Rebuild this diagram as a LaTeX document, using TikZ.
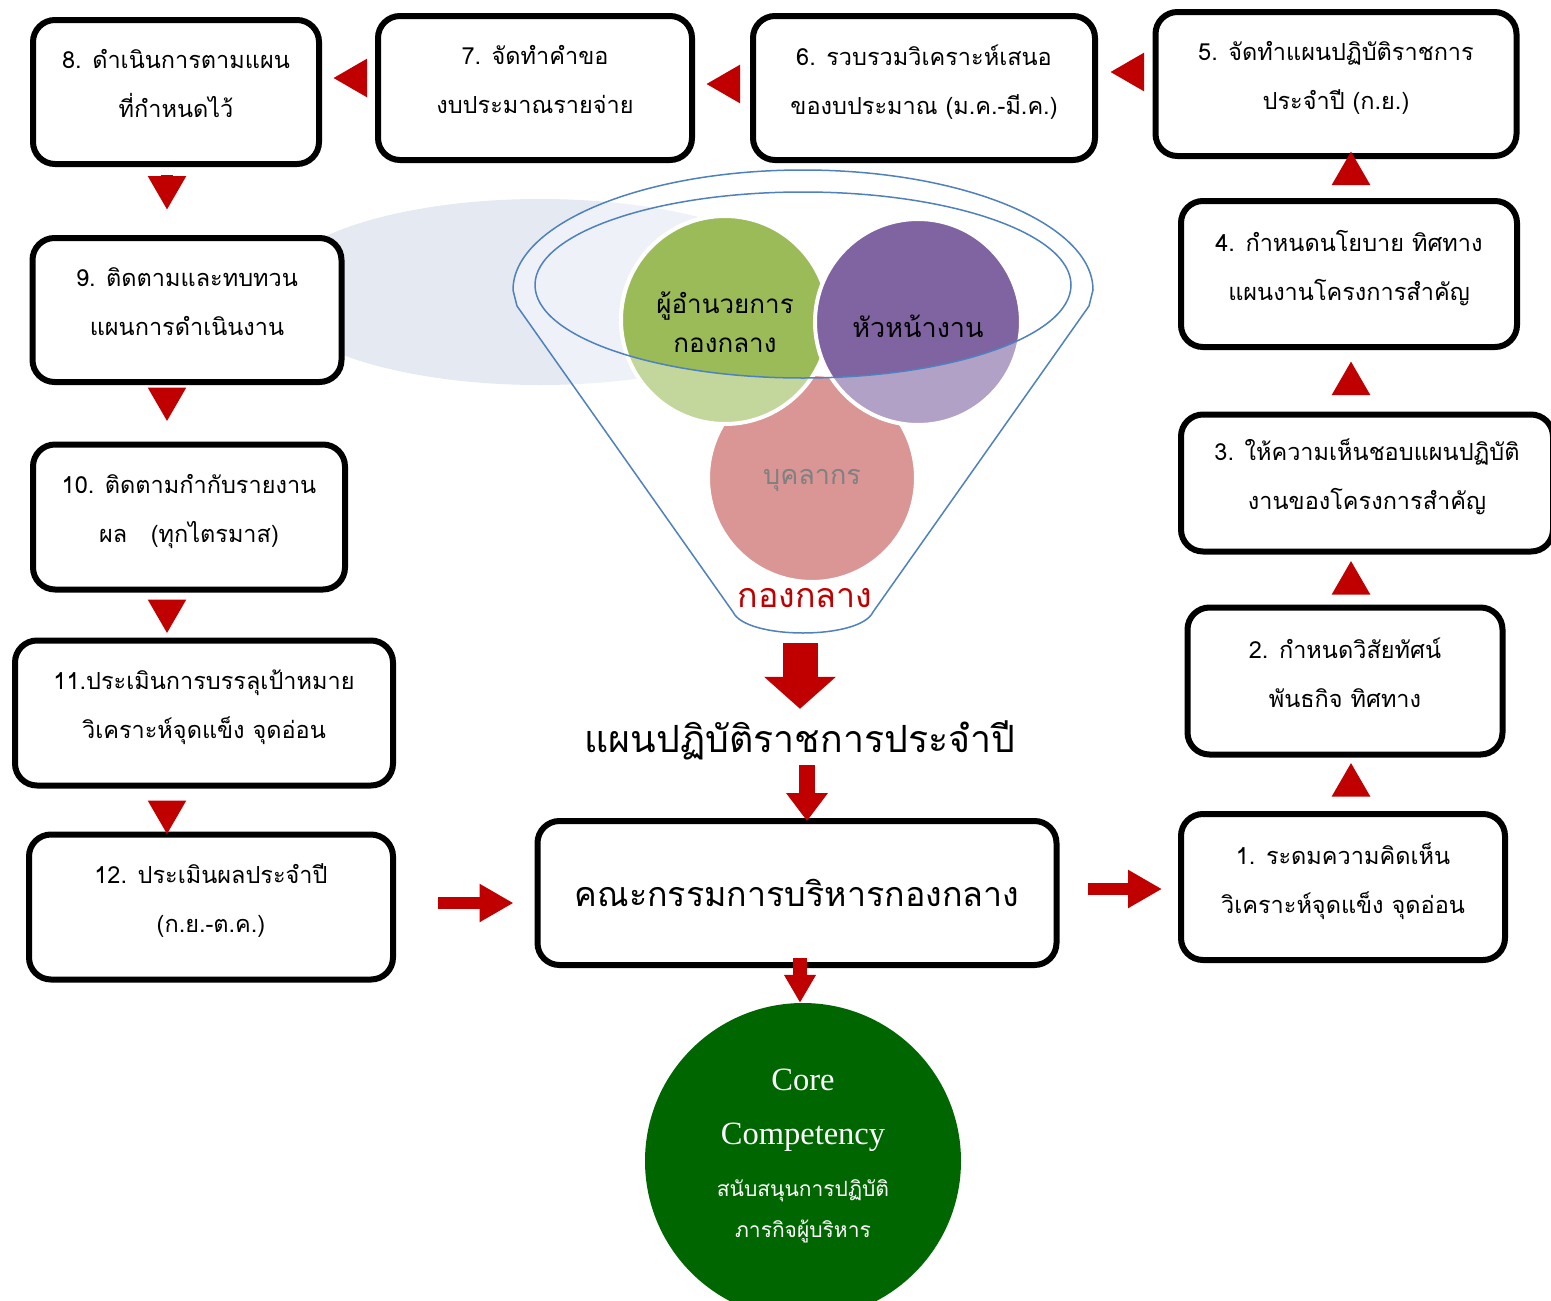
\documentclass[tikz,border=0pt]{standalone}
\usepackage{fontspec}
\newfontfamily\thai[Script=Thai]{Loma}
\newfontfamily\serif{Liberation Serif}
\usetikzlibrary{arrows.meta}

\definecolor{arrowred}{HTML}{C00000}
\definecolor{funnelblue}{HTML}{4F81BD}
\definecolor{greenfull}{HTML}{9BBB59}
\definecolor{greenlight}{HTML}{C3D69B}
\definecolor{purplefull}{HTML}{8064A2}
\definecolor{purplelight}{HTML}{B2A1C7}
\definecolor{pinklight}{HTML}{D99694}
\definecolor{coregreen}{HTML}{006600}
\definecolor{paleblue}{HTML}{E4E9F2}

\tikzset{
  stepbox/.style={draw=black, line width=6pt, rounded corners=22pt, fill=white,
    align=center, text depth=17pt, font=\thai\fontsize{23.5}{49}\selectfont},
  flow/.style={draw=arrowred, line width=12pt, -{Triangle[length=34pt,width=36pt]}},
  bigflow/.style={draw=arrowred, line width=35pt, -{Triangle[length=32pt,width=70pt]}},
  ring/.style={draw=white, line width=4pt},
}

\begin{document}
\begin{tikzpicture}[x=1pt, y=-1pt]
\useasboundingbox (0,0) rectangle (1551,1301);

% pale shadow behind the funnel
\fill[paleblue] (540,292) ellipse [x radius=268, y radius=93];

% funnel
\fill[white, opacity=0.4] (513,290) .. controls (513,224) and (643,170) .. (803,170)
  .. controls (963,170) and (1093,224) .. (1093,290) -- (1089,306) -- (873,612)
  .. controls (860,640) and (746,640) .. (733,612) -- (517,306) -- cycle;

% the three groups
\draw[ring, fill=pinklight] (812,478) circle [radius=104];
\draw[ring, fill=greenlight] (725,320) circle [radius=104];
\draw[ring, fill=purplelight] (918,322) circle [radius=103];
\begin{scope}
  \clip (803,285) ellipse [x radius=268, y radius=93];
  \draw[ring, fill=greenfull] (725,320) circle [radius=104];
  \draw[ring, fill=purplefull] (918,322) circle [radius=103];
\end{scope}

\draw[funnelblue, line width=1.5pt] (513,290) .. controls (513,224) and (643,170) .. (803,170)
  .. controls (963,170) and (1093,224) .. (1093,290) -- (1089,306) -- (873,612)
  .. controls (860,640) and (746,640) .. (733,612) -- (517,306) -- cycle;
\draw[funnelblue, line width=1.5pt] (803,285) ellipse [x radius=268, y radius=93];

\node[align=center, font=\thai\fontsize{26}{39}\selectfont] (director) at (725,322) {ผู้อำนวยการ\\กองกลาง};
\node[font=\thai\fontsize{27}{30}\selectfont] (heads) at (918,326) {หัวหน้างาน};
\node[font=\thai\fontsize{27}{30}\selectfont, text=gray] (staff) at (812,480) {บุคลากร};
\node[font=\thai\fontsize{34}{36}\selectfont, text=arrowred] (division) at (805,598) {กองกลาง};
\coordinate (fbot) at (800,635);

% steps
\node[stepbox, minimum width=286, minimum height=144] (b8) at (176,92) {8. ดำเนินการตามแผน\\ที่กำหนดไว้};
\node[stepbox, minimum width=314, minimum height=144] (b7) at (535,88) {7. จัดทำคำขอ\\งบประมาณรายจ่าย};
\node[stepbox, minimum width=342, minimum height=144] (b6) at (924,88) {6. รวบรวมวิเคราะห์เสนอ\\ของบประมาณ (ม.ค.-มี.ค.)};
\node[stepbox, minimum width=361, minimum height=144] (b5) at (1336,84) {5. จัดทำแผนปฏิบัติราชการ\\ประจำปี (ก.ย.)};
\node[stepbox, minimum width=336, minimum height=146] (b4) at (1349,274) {4. กำหนดนโยบาย ทิศทาง\\แผนงานโครงการสำคัญ};
\node[stepbox, minimum width=372, minimum height=137] (b3) at (1367,483) {3. ให้ความเห็นชอบแผนปฏิบัติ\\งานของโครงการสำคัญ};
\node[stepbox, minimum width=315, minimum height=147] (b2) at (1345,681) {2. กำหนดวิสัยทัศน์\\พันธกิจ ทิศทาง};
\node[stepbox, minimum width=324, minimum height=146] (b1) at (1343,887) {1. ระดมความคิดเห็น\\วิเคราะห์จุดแข็ง จุดอ่อน};
\node[stepbox, minimum width=309, minimum height=144] (b9) at (187,310) {9. ติดตามและทบทวน\\แผนการดำเนินงาน};
\node[stepbox, minimum width=312, minimum height=145] (b10) at (189,517) {10. ติดตามกำกับรายงาน\\ผล\quad(ทุกไตรมาส)};
\node[stepbox, minimum width=378, minimum height=145] (b11) at (204,713) {11.ประเมินการบรรลุเป้าหมาย\\วิเคราะห์จุดแข็ง จุดอ่อน};
\node[stepbox, minimum width=364, minimum height=145] (b12) at (211,907) {12. ประเมินผลประจำปี\\(ก.ย.-ต.ค.)};

\node[font=\thai\fontsize{37.5}{40}\selectfont] (plan) at (800,740) {แผนปฏิบัติราชการประจำปี};
\node[stepbox, minimum width=519, minimum height=144, text depth=0pt, font=\thai\fontsize{34}{40}\selectfont] (bc) at (797,893) {คณะกรรมการบริหารกองกลาง};

\node[circle, fill=coregreen, minimum size=316, inner sep=0] (core) at (803,1161) {};
\node[text=white, font=\serif\fontsize{32.5}{36}\selectfont] at (803,1080) {Core};
\node[text=white, font=\serif\fontsize{32.5}{36}\selectfont] at (803,1137) {Competency};
\node[text=white, align=center, font=\thai\fontsize{21}{41}\selectfont] at (803,1211) {สนับสนุนการปฏิบัติ\\ภารกิจผู้บริหาร};

% arrows
\coordinate (lcol) at (167,0);
\coordinate (rcol) at (1351,0);
\draw[flow, shorten <=10pt, shorten >=11pt] ([yshift=10pt]b7.west) -- ([yshift=10pt]b7.west -| b8.east);
\draw[flow, shorten <=13pt, shorten >=11pt] ([yshift=4pt]b6.west) -- ([yshift=4pt]b6.west -| b7.east);
\draw[flow, shorten <=13pt, shorten >=12pt] ([yshift=12pt]b5.west) -- ([yshift=12pt]b5.west -| b6.east);
\draw[flow, shorten <=8pt, shorten >=25pt] (b8.south -| lcol) -- (b9.north -| lcol);
\draw[flow, shorten <=8pt, shorten >=20pt] (b9.south -| lcol) -- (b10.north -| lcol);
\draw[flow, shorten <=10pt, shorten >=4pt] (b10.south -| lcol) -- (b11.north -| lcol);
\draw[flow, shorten <=18pt, shorten >=-3pt] (b11.south -| lcol) -- (b12.north -| lcol);
\draw[flow, shorten <=15pt, shorten >=5pt] (b1.north -| rcol) -- (b2.south -| rcol);
\draw[flow, shorten <=12pt, shorten >=6pt] (b2.north -| rcol) -- (b3.south -| rcol);
\draw[flow, shorten <=20pt, shorten >=11pt] (b3.north -| rcol) -- (b4.south -| rcol);
\draw[flow, shorten <=16pt, shorten >=-8pt] (b4.north -| rcol) -- (b5.south -| rcol);
\draw[flow, shorten <=42pt, shorten >=21pt] ([yshift=4pt]b12.east) -- ([yshift=4pt]b12.east -| bc.west);
\draw[flow, shorten <=28pt, shorten >=16pt] ([yshift=4pt]bc.east) -- ([yshift=4pt]bc.east -| b1.west);
\draw[bigflow, shorten <=8pt, shorten >=8pt] (fbot) -- (fbot |- plan.north);
\draw[flow, line width=16pt, -{Triangle[length=28pt,width=40pt]}, shorten <=2pt, shorten >=-3pt] ([xshift=7pt]plan.south) -- ([xshift=7pt]plan.south |- bc.north);
\draw[flow, line width=14pt, -{Triangle[length=28pt,width=30pt]}, shorten <=-10pt] ([xshift=3pt]bc.south) -- ([xshift=3pt]bc.south |- core.north);
\end{tikzpicture}
\end{document}
